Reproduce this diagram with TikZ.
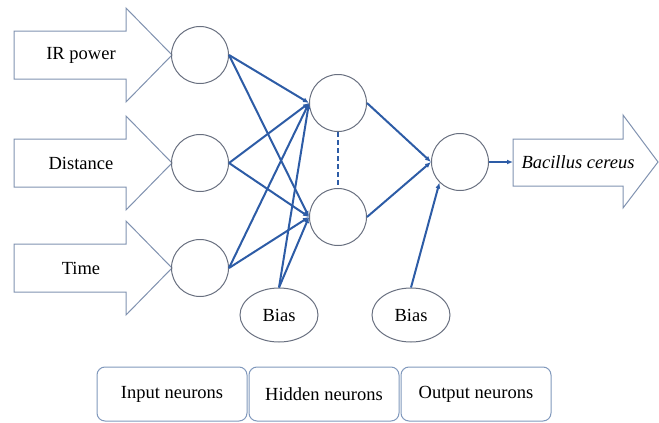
\documentclass[tikz,border=0pt]{standalone}
\usepackage{fontspec}
\setmainfont{Liberation Serif}
\usetikzlibrary{arrows.meta,positioning,shapes.geometric}

\definecolor{netblue}{RGB}{45,92,166}
\definecolor{circgray}{RGB}{105,112,128}
\definecolor{arrowgray}{RGB}{128,146,176}
\definecolor{boxgray}{RGB}{128,152,188}

\begin{document}
\begin{tikzpicture}[x=1pt,y=-1pt,
    font=\fontsize{18.5}{22}\selectfont,
    neuron/.style={circle,draw=circgray,line width=1pt,minimum size=57pt,inner sep=0pt},
    biasnode/.style={ellipse,draw=circgray,line width=1pt,minimum width=78pt,minimum height=54pt,inner sep=0pt},
    link/.style={netblue,line width=2pt,-{Latex[length=6pt,width=5pt]}},
    bigarrow/.style={draw=arrowgray,line width=1pt},
    layerbox/.style={draw=boxgray,rounded corners=8pt,line width=1pt,minimum width=150pt,minimum height=54pt,inner sep=0pt}]
    \path[use as bounding box] (0,0) rectangle (659,423);

    % inputs
    \foreach[count=\i] \y/\txt in {55/IR power,163/Distance,268/Time} {
        \draw[bigarrow] (14,\y-24) -- (126,\y-24) -- (126,\y-47) -- (172,\y)
            -- (126,\y+47) -- (126,\y+24) -- (14,\y+24) -- cycle;
        \node (lab\i) at (81,\y) {\txt};
        \node[neuron] (n\i) at (200,\y) {};
    }

    % hidden and output layer
    \node[neuron] (h1) at (338,103) {};
    \node[neuron] (h2) at (338,217) {};
    \node[neuron] (out) at (460,162) {};
    \node[biasnode] (b1) at (279,315) {Bias};
    \node[biasnode] (b2) at (411,315) {Bias};

    % result arrow
    \draw[bigarrow] (513,139) -- (623,139) -- (623,115) -- (658,162)
        -- (623,208) -- (623,186) -- (513,186) -- cycle;
    \coordinate (res) at (513,162);
    \node (bac) at (578,162) {\itshape Bacillus cereus};

    \foreach \i in {1,2,3} {
        \foreach \h in {h1,h2}
            \draw[link] (n\i.east) -- (\h.west);
    }
    \foreach \h in {h1,h2}
        \draw[link] (b1.north) -- (\h.west);
    \draw[netblue,line width=2pt,dash pattern=on 5pt off 3pt] (h1) -- (h2);
    \draw[link] (h1.east) -- (out.west);
    \draw[link] (h2.east) -- (out.west);
    \draw[link] (b2.north) -- (out.225);
    \draw[link] (out.east) -- (res);

    % layer labels
    \node[layerbox] (box1) at (172,394) {Input neurons};
    \node[layerbox,right=1pt of box1] (box2) {Hidden neurons};
    \node[layerbox,right=1pt of box2] (box3) {Output neurons};
\end{tikzpicture}
\end{document}
